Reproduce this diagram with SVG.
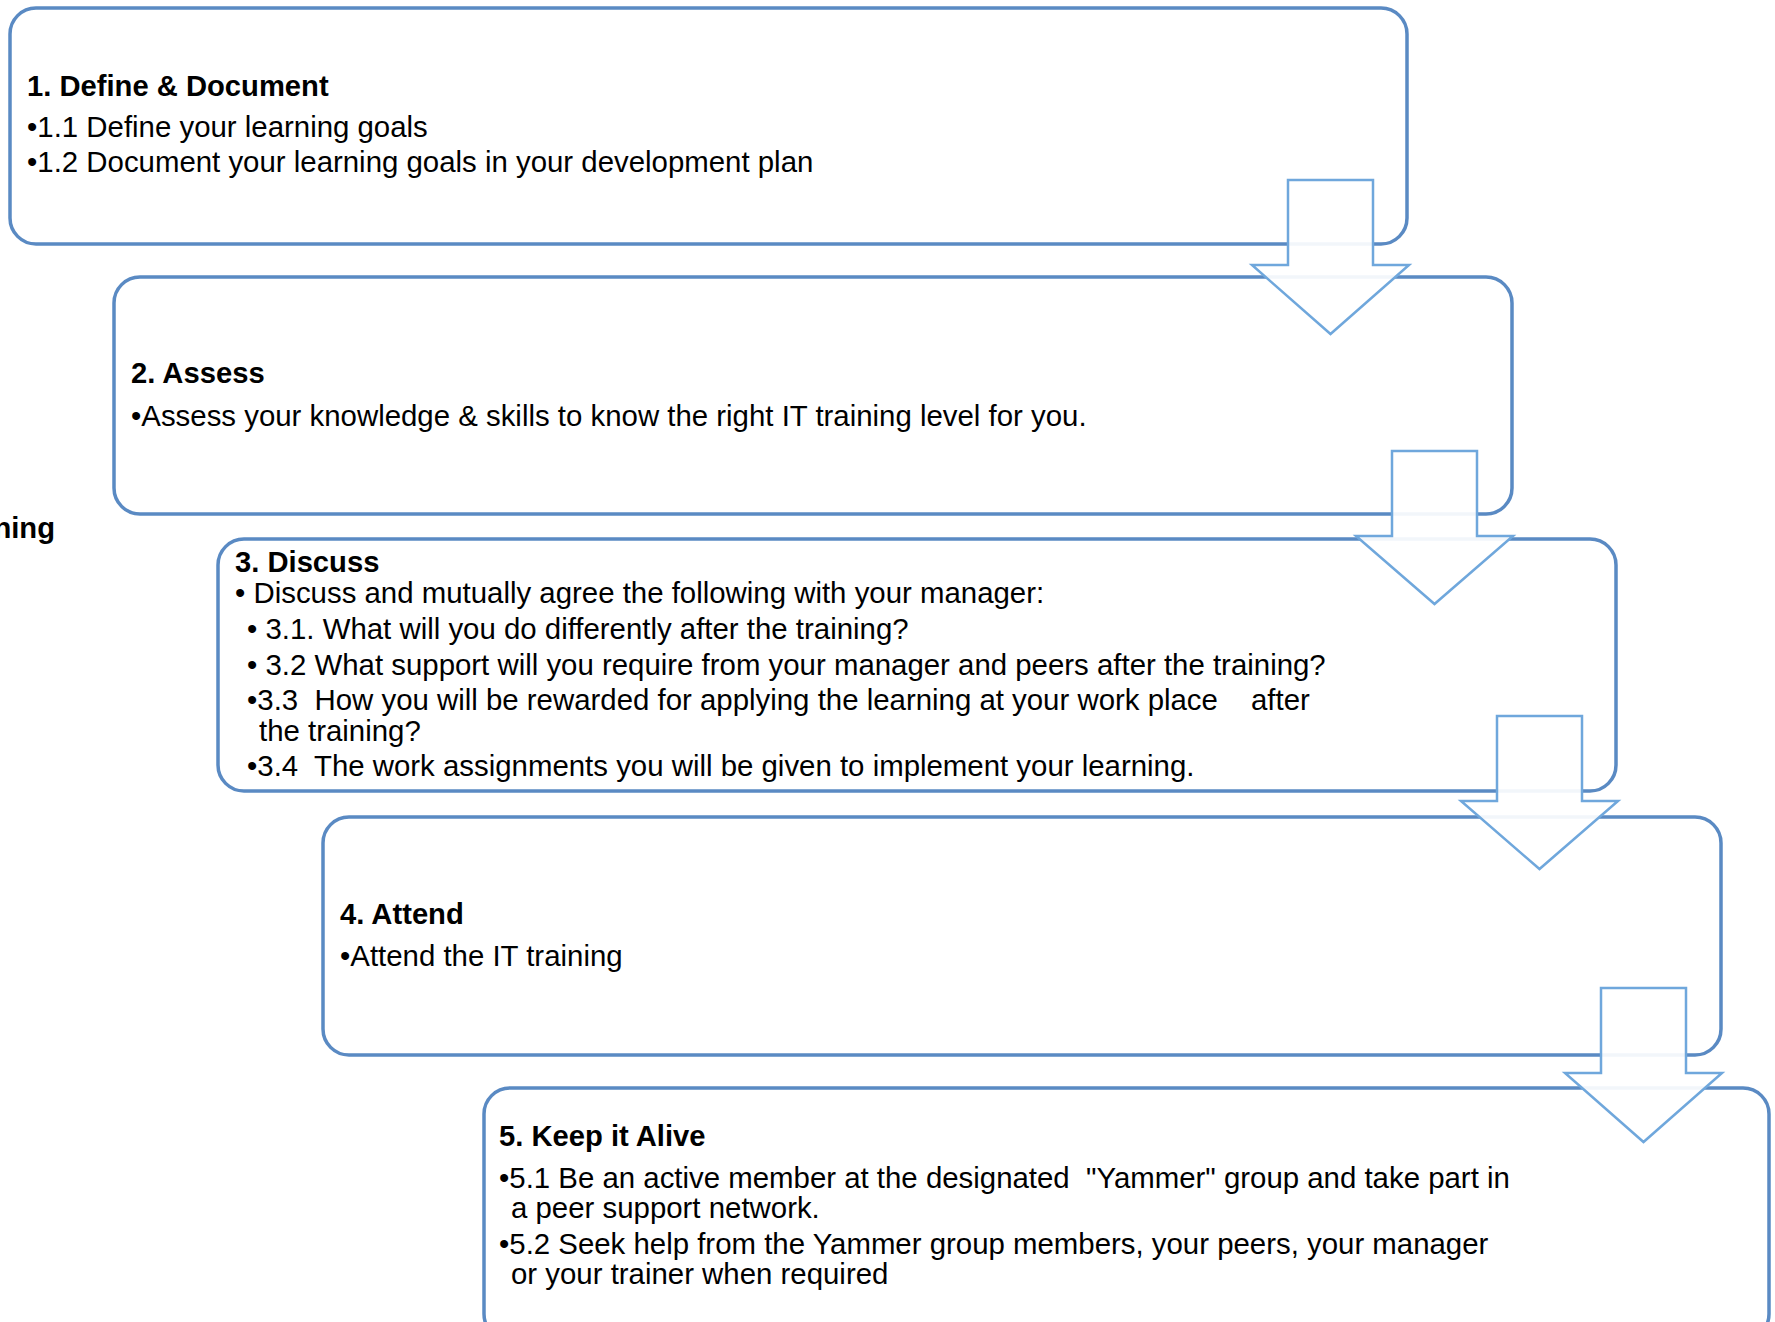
<svg xmlns="http://www.w3.org/2000/svg" width="1775" height="1322" viewBox="0 0 1775 1322">
  <style>
    .box { fill: #ffffff; stroke: #5a8ac3; stroke-width: 3.5; }
    .arrow { fill: #ffffff; fill-opacity: 0.92; stroke: #6fa7dc; stroke-width: 2.5; stroke-linejoin: miter; }
    text { font-family: "Liberation Sans", Arial, sans-serif; font-size: 29.4px; fill: #000000; white-space: pre; }
    .head { font-weight: bold; font-size: 29.2px; }
  </style>
  <rect width="1775" height="1322" fill="#ffffff"/>

  <!-- clipped label at the left margin -->
  <text class="head" x="55" y="538" text-anchor="end">ning</text>

  <g id="step1">
    <rect class="box" x="10" y="8" width="1397" height="236" rx="26"/>
    <text class="head" x="27" y="96">1. Define &amp; Document</text>
    <text x="27" y="137">•1.1 Define your learning goals</text>
    <text x="27" y="172">•1.2 Document your learning goals in your development plan</text>
  </g>

  <g id="step2">
    <rect class="box" x="114" y="277" width="1398" height="237" rx="26"/>
    <text class="head" x="131" y="383">2. Assess</text>
    <text x="131" y="426">•Assess your knowledge &amp; skills to know the right IT training level for you.</text>
  </g>

  <g id="step3">
    <rect class="box" x="218" y="539" width="1398" height="252" rx="26"/>
    <text class="head" x="235" y="572">3. Discuss</text>
    <text x="235" y="603">• Discuss and mutually agree the following with your manager:</text>
    <text x="247" y="639">• 3.1. What will you do differently after the training?</text>
    <text x="247" y="675">• 3.2 What support will you require from your manager and peers after the training?</text>
    <text x="247" y="710" xml:space="preserve">•3.3  How you will be rewarded for applying the learning at your work place<tspan x="1251">after</tspan></text>
    <text x="259" y="741">the training?</text>
    <text x="247" y="776" xml:space="preserve">•3.4  The work assignments you will be given to implement your learning.</text>
  </g>

  <g id="step4">
    <rect class="box" x="323" y="817" width="1398" height="238" rx="26"/>
    <text class="head" x="340" y="924">4. Attend</text>
    <text x="340" y="966">•Attend the IT training</text>
  </g>

  <g id="step5">
    <rect class="box" x="484" y="1088" width="1285" height="252" rx="26"/>
    <text class="head" x="499" y="1146">5. Keep it Alive</text>
    <text x="499" y="1188" xml:space="preserve">•5.1 Be an active member at the designated  "Yammer" group and take part in</text>
    <text x="511" y="1218">a peer support network.</text>
    <text x="499" y="1254">•5.2 Seek help from the Yammer group members, your peers, your manager</text>
    <text x="511" y="1284">or your trainer when required</text>
  </g>

  <!-- block arrows linking each step to the next -->
  <g id="connectors">
    <polygon class="arrow" points="1288,180 1373,180 1373,265 1409,265 1330.5,334 1252,265 1288,265"/>
    <polygon class="arrow" points="1392,451 1477,451 1477,536 1513,536 1434.5,604 1356,536 1392,536"/>
    <polygon class="arrow" points="1497,716 1582,716 1582,801 1618,801 1539.5,869 1461,801 1497,801"/>
    <polygon class="arrow" points="1601,988 1686,988 1686,1073 1722,1073 1643.5,1142 1565,1073 1601,1073"/>
  </g>
</svg>
